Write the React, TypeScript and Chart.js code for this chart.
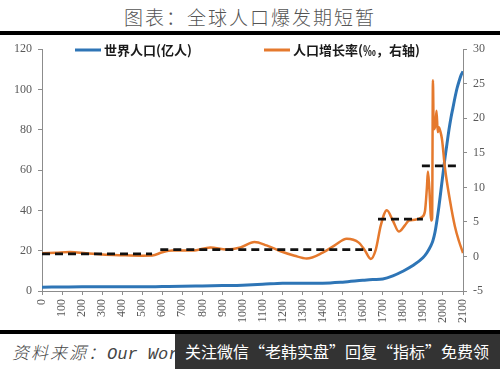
import React, { useEffect, useRef } from "react";
import { Chart, registerables } from "chart.js";
Chart.register(...registerables);

// World population (亿人)
const popYears = [0, 100, 200, 300, 400, 500, 600, 700, 800, 900, 1000, 1100, 1200, 1300, 1400, 1500, 1600, 1650, 1700, 1750, 1800, 1850, 1900, 1920, 1940, 1950, 1960, 1970, 1980, 1990, 2000, 2010, 2020, 2030, 2040, 2050, 2060, 2070, 2080, 2090, 2100];
const popValues = [1.9, 2.0, 2.1, 2.1, 2.1, 2.1, 2.2, 2.3, 2.5, 2.7, 2.9, 3.3, 3.9, 3.9, 3.9, 4.4, 5.3, 5.7, 6.0, 7.5, 9.8, 12.6, 16.5, 19, 22.5, 25, 29, 35, 42, 50, 58, 66, 73, 80, 86, 91, 96, 100.5, 104, 107, 109];

// Population growth rate (‰, right axis)
const rateYears = [0, 70, 140, 220, 300, 400, 500, 550, 600, 650, 750, 840, 920, 990, 1060, 1120, 1190, 1260, 1320, 1400, 1460, 1520, 1580, 1610, 1640, 1665, 1690, 1720, 1750, 1780, 1810, 1830, 1860, 1895, 1910, 1920, 1925, 1932, 1942, 1946, 1950, 1954, 1962, 1968, 1974, 1980, 1985, 1995, 2010, 2035, 2060, 2080, 2100];
const rateValues = [0.45, 0.55, 0.65, 0.45, 0.28, 0.18, 0.12, 0.14, 0.6, 0.85, 0.85, 1.3, 1.0, 1.3, 2.1, 1.6, 0.75, 0.1, -0.3, 0.55, 1.6, 2.55, 2.0, 0.9, -0.35, 1.0, 4.5, 6.7, 5.2, 3.6, 4.5, 5.2, 5.3, 5.7, 6.5, 10, 12.3, 9.9, 5.2, 5.5, 25.5, 18.4, 19, 21.1, 18, 18.7, 18.3, 17, 12.8, 8.1, 4.3, 2.2, 0.5];

// Period average growth rates (dashed)
const periodStart = [0, 590, 1676, 1895];
const periodEnd = [549, 1646, 1900, 2075];
const periodRate = [0.38, 1.0, 5.4, 13.1];

const BLUE = "#2E75B6";
const ORANGE = "#E5792D";

const legendPlugin = {
  id: "customLegend",
  afterDraw(chart: any) {
    const ctx = chart.ctx;
    ctx.save();
    const y = 14;
    ctx.lineWidth = 3;
    ctx.strokeStyle = BLUE;
    ctx.beginPath();
    ctx.moveTo(75, y);
    ctx.lineTo(101, y);
    ctx.stroke();
    ctx.strokeStyle = ORANGE;
    ctx.beginPath();
    ctx.moveTo(264, y);
    ctx.lineTo(290, y);
    ctx.stroke();
    ctx.fillStyle = "#1a1a1a";
    ctx.font = "bold 13px 'Noto Sans CJK SC', sans-serif";
    ctx.textBaseline = "middle";
    ctx.fillText("世界人口(亿人)", 104, y);
    ctx.fillText("人口增长率(‰，右轴)", 293, y);
    ctx.restore();
  },
};

export default function App() {
  const ref = useRef<HTMLCanvasElement>(null);
  useEffect(() => {
    document.body.style.margin = "0";
    const tickFont = { family: "'Liberation Serif', 'Times New Roman', serif", size: 12 };
    const axisColor = "#8c8c8c";
    const datasets: any[] = [
      {
        label: "世界人口(亿人)",
        data: popYears.map((x, i) => ({ x, y: popValues[i] })),
        borderColor: BLUE,
        borderWidth: 3,
        pointRadius: 0,
        cubicInterpolationMode: "monotone",
        yAxisID: "y",
        order: 2,
      },
      {
        label: "人口增长率(‰，右轴)",
        data: rateYears.map((x, i) => ({ x, y: rateValues[i] })),
        borderColor: ORANGE,
        borderWidth: 2.5,
        pointRadius: 0,
        cubicInterpolationMode: "monotone",
        yAxisID: "y1",
        order: 1,
      },
    ];
    periodStart.forEach((s, i) => {
      datasets.push({
        label: "period" + i,
        data: [
          { x: s, y: periodRate[i] },
          { x: periodEnd[i], y: periodRate[i] },
        ],
        borderColor: "#111",
        borderWidth: 2.8,
        borderDash: [8, 5],
        pointRadius: 0,
        yAxisID: "y1",
        order: 0,
      });
    });
    const chart = new Chart(ref.current!, {
      type: "line",
      data: { datasets },
      options: {
        animation: false,
        responsive: false,
        layout: { padding: { top: 9, left: 0, right: 0, bottom: 0 } },
        plugins: { legend: { display: false }, tooltip: { enabled: false } },
        scales: {
          x: {
            type: "linear",
            min: 0,
            max: 2100,
            afterBuildTicks: (scale: any) => {
              const t = [];
              for (let v = 0; v <= 2100; v += 100) t.push({ value: v });
              scale.ticks = t;
            },
            afterFit: (scale: any) => {
              scale.height = 39;
            },
            ticks: {
              autoSkip: false,
              minRotation: 90,
              maxRotation: 90,
              font: tickFont,
              color: "#595959",
              padding: 4,
              callback: (v: any) => String(v),
            },
            grid: { drawOnChartArea: false, drawTicks: true, tickLength: 4, color: axisColor },
            border: { display: true, color: axisColor, width: 1 },
          },
          y: {
            position: "left",
            min: 0,
            max: 120,
            ticks: { stepSize: 20, font: tickFont, color: "#595959", padding: 6 },
            afterFit: (scale: any) => {
              scale.width = 42;
            },
            grid: { drawOnChartArea: false, drawTicks: true, tickLength: 4, color: axisColor },
            border: { display: true, color: axisColor, width: 1 },
          },
          y1: {
            position: "right",
            min: -5,
            max: 30,
            ticks: { stepSize: 5, font: tickFont, color: "#595959", padding: 6 },
            afterFit: (scale: any) => {
              scale.width = 37;
            },
            grid: { drawOnChartArea: false, drawTicks: true, tickLength: 4, color: axisColor },
            border: { display: true, color: axisColor, width: 1 },
          },
        },
      },
      plugins: [legendPlugin],
    });
    return () => chart.destroy();
  }, []);

  return (
    <div style={{ position: "relative", width: 500, height: 369, background: "#fff", overflow: "hidden" }}>
      <div
        style={{
          position: "absolute",
          top: 5,
          left: 0,
          width: 500,
          textAlign: "center",
          fontFamily: "'Noto Sans CJK SC', sans-serif",
          fontWeight: 300,
          fontSize: 19,
          letterSpacing: 2,
          color: "#555",
          lineHeight: "24px",
        }}
      >
        图表：全球人口爆发期短暂
      </div>
      <div style={{ position: "absolute", top: 31, left: 0, width: 500, height: 3.5, background: "#000" }} />
      <canvas ref={ref} width={500} height={294} style={{ position: "absolute", top: 36, left: 0 }} />
      <div style={{ position: "absolute", top: 330, left: 0, width: 500, height: 4, background: "#000" }} />
      <div
        style={{
          position: "absolute",
          top: 341,
          left: 12,
          whiteSpace: "nowrap",
          fontStyle: "italic",
          fontSize: 17,
          color: "#444",
          lineHeight: "22px",
        }}
      >
        <span style={{ fontFamily: "'Noto Sans CJK SC', sans-serif", fontWeight: 300, letterSpacing: 2 }}>资料来源：</span>
        <span style={{ fontFamily: "'Liberation Mono', monospace" }}>Our World in Data，联合国</span>
      </div>
      <div
        style={{
          position: "absolute",
          top: 334,
          left: 175,
          width: 325,
          height: 35,
          background: "#333",
          color: "#fff",
          fontFamily: "'Noto Sans CJK SC', sans-serif",
          fontSize: 16,
          lineHeight: "35px",
          paddingLeft: 10,
          boxSizing: "border-box",
          whiteSpace: "nowrap",
        }}
      >
        关注微信“老韩实盘”回复“指标”免费领
      </div>
    </div>
  );
}
